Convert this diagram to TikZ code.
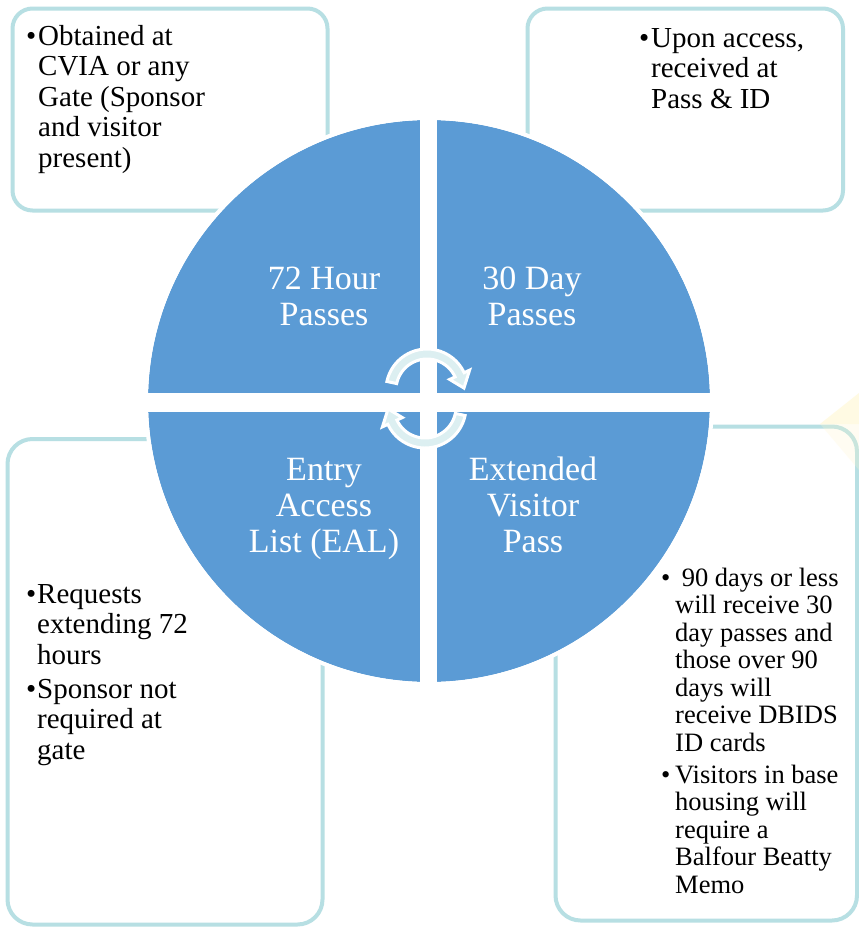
\documentclass[tikz,border=0pt]{standalone}
\usepackage{fontspec}
\setmainfont{Liberation Serif}
\definecolor{qblue}{HTML}{5B9BD5}
\definecolor{bord}{HTML}{B7DFE3}
\definecolor{arrfill}{HTML}{DCEFF1}
\definecolor{glow}{HTML}{FFF7CC}
\begin{document}
\begin{tikzpicture}[x=1pt,y=-1pt,
  panel/.style={draw=bord, line width=4pt, fill=white},
  qlabel/.style={text=white, align=center, anchor=north, inner sep=0pt, font=\fontsize{34}{36}\selectfont},
  btext/.style={align=left, anchor=north west, inner sep=0pt, font=\fontsize{29}{30.5}\selectfont},
  stext/.style={align=left, anchor=north west, inner sep=0pt, font=\fontsize{26.5}{27.5}\selectfont},
  bul/.style={anchor=base west, inner sep=0pt, font=\fontsize{29}{30.5}\selectfont},
  sbul/.style={anchor=base west, inner sep=0pt, font=\fontsize{26.5}{27.5}\selectfont},
  cyc/.style={fill=arrfill, draw=white, line width=3pt, line join=miter}]
\useasboundingbox (0,0) rectangle (859,927);
\fill[white] (0,0) rectangle (859,927);
% panels
\draw[panel, rounded corners=20pt] (12.5,8.5) rectangle (327.5,210.5);
\draw[panel, rounded corners=20pt] (527.5,8.5) rectangle (843,210.5);
\draw[panel, rounded corners=25pt] (7.5,439) rectangle (322.5,924.5);
\draw[panel, rounded corners=25pt] (555.5,426.5) rectangle (857,920.5);
% faint glow
\fill[glow, opacity=0.55] (820,424) -- (859,393) -- (859,424) -- cycle;
\fill[glow, opacity=0.25] (820,424) -- (859,424) -- (859,470) -- cycle;
% circle with quadrants
\fill[qblue] (429,401) circle[radius=281pt];
\draw[white, line width=4pt] (429,401) circle[radius=283pt];
\begin{scope}
\clip (429,401) circle[radius=285pt];
\fill[white] (420,100) rectangle (437.3,700);
\fill[white] (130,393.3) rectangle (730,411.7);
\end{scope}
% circular arrows
\begin{scope}[shift={(427,390)}]
\draw[cyc] (168:41pt) arc[start angle=168, end angle=25, radius=41pt]
  -- (25:47pt) -- (3:37pt) -- (25:25pt) -- (25:31pt)
  arc[start angle=25, end angle=168, radius=31pt] -- cycle;
\end{scope}
\begin{scope}[shift={(425,407)}, rotate=180]
\draw[cyc] (168:41pt) arc[start angle=168, end angle=25, radius=41pt]
  -- (25:47pt) -- (3:37pt) -- (25:25pt) -- (25:31pt)
  arc[start angle=25, end angle=168, radius=31pt] -- cycle;
\end{scope}
% quadrant labels
\node[qlabel] (q1) at (324,263.8) {\strut 72 Hour\\Passes};
\node[qlabel] (q2) at (532,263.8) {\strut 30 Day\\Passes};
\node[qlabel] (q3) at (324,454.8) {\strut Entry\\Access\\List (EAL)};
\node[qlabel] (q4) at (533,454.8) {\strut Extended\\Visitor\\Pass};
% panel texts
\node[bul] (tlb) at (26,45) {\textbullet};
\node[btext] (tlt) at (38,23.65) {\strut Obtained at\\CVIA or any\\Gate (Sponsor\\and visitor\\present)};
\node[bul] (trb) at (639,47) {\textbullet};
\node[btext] (trt) at (651,25.65) {\strut Upon access,\\received at\\Pass \& ID};
\node[bul] (blb1) at (26,603) {\textbullet};
\node[btext] (blt1) at (37,581.65) {\strut Requests\\extending 72\\hours};
\node[bul] (blb2) at (26,698) {\textbullet};
\node[btext] (blt2) at (37,676.65) {\strut Sponsor not\\required at\\gate};
\node[sbul] (brb1) at (661,586) {\textbullet};
\node[stext] (brt1) at (675,566.75) {\strut\hspace*{6.6pt}90 days or less\\will receive 30\\day passes and\\those over 90\\days will\\receive DBIDS\\ID cards};
\node[sbul] (brb2) at (661,783) {\textbullet};
\node[stext] (brt2) at (675,763.75) {\strut Visitors in base\\housing will\\require a\\Balfour Beatty\\Memo};
\end{tikzpicture}
\end{document}
